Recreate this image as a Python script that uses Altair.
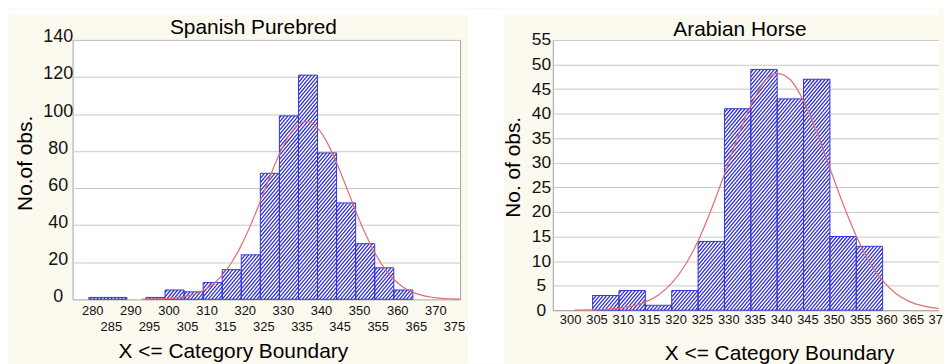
import altair as alt
import pandas as pd

# ---------------- data ----------------
sp_bins = [280, 285, 290, 295, 300, 305, 310, 315, 320, 325, 330, 335, 340, 345, 350, 355, 360]
sp_counts = [1, 1, 0, 1, 5, 4, 9, 16, 24, 68, 99, 121, 79, 52, 30, 17, 5]
sp_curve_x = [294, 295, 297.5, 300, 302.5, 305, 307.5, 310, 312.5, 315, 317.5, 320, 322.5,
              325, 327.5, 330, 332.5, 335, 337.5, 340, 342.5, 345, 347.5, 350, 352.5, 355,
              357.5, 360, 362.5, 365, 367.5, 370, 372.5, 375, 377.4]
sp_curve_y = [0.05, 0.07, 0.15, 0.33, 0.7, 1.4, 2.6, 4.7, 8.0, 13.0, 20.0, 29.1, 40.3,
              53.0, 66.1, 78.4, 88.3, 94.4, 96.0, 92.5, 84.7, 73.7, 60.9, 47.7, 35.6, 25.2,
              16.9, 10.8, 6.5, 3.8, 2.1, 1.1, 0.5, 0.25, 0.1]
sp_ticks_row1 = [280, 290, 300, 310, 320, 330, 340, 350, 360, 370]
sp_ticks_row2 = [285, 295, 305, 315, 325, 335, 345, 355, 365, 375]
sp_y_ticks = [0, 20, 40, 60, 80, 100, 120, 140]

ar_bins = [305, 310, 315, 320, 325, 330, 335, 340, 345, 350, 355]
ar_counts = [3, 4, 1, 4, 14, 41, 49, 43, 47, 15, 13]
ar_curve_x = [301.5, 302.5, 305, 307.5, 310, 312.5, 315, 317.5, 320, 322.5, 325, 327.5,
              330, 332.5, 335, 337.5, 340, 342.5, 345, 347.5, 350, 352.5, 355, 357.5,
              360, 362.5, 365, 367.5, 370, 370.6]
ar_curve_y = [0.02, 0.03, 0.07, 0.16, 0.38, 0.82, 1.65, 3.1, 5.5, 9.1, 14.1, 20.5,
              27.7, 35.2, 41.7, 46.4, 48.2, 46.9, 42.6, 36.3, 28.9, 21.6, 15.1, 9.8,
              6.0, 3.4, 1.8, 0.92, 0.43, 0.38]
ar_ticks = [300, 305, 310, 315, 320, 325, 330, 335, 340, 345, 350, 355, 360, 365, 370]
ar_y_ticks = [0, 5, 10, 15, 20, 25, 30, 35, 40, 45, 50, 55]

BIN_WIDTH = 5
X_TITLE = "X <= Category Boundary"
SP_TITLE = "Spanish Purebred"
AR_TITLE = "Arabian Horse"

# ---------------- layout / style ----------------
FONT = "Liberation Sans"
CREAM = "#fcf9ef"
BAR_BLUE = "#3434d8"
HATCH_BLUE = "#2c2cd2"
CURVE_RED = "#e36d6d"
GRID = "#c9c9c9"
BORDER = "#a3a3a3"
TXT = "#111111"

W1, H1, DOM1, YMAX1 = 390, 261, [275.75, 377.4], 140
W2, H2, DOM2, YMAX2 = 388.2, 272, [297.45, 370.6], 55
SPACING = 93.3
HATCH_PERIOD = 3.5
HATCH_SLOPE = 1.2
HATCH_WIDTH = 1.25


def one_row():
    return pd.DataFrame({"k": [0]})


def value_rect(x, x2, y, y2, color):
    return alt.Chart(one_row()).mark_rect(color=color).encode(
        x=alt.value(x), x2=alt.value(x2), y=alt.value(y), y2=alt.value(y2))


def value_text(text, x, y):
    return alt.Chart(one_row()).mark_text(
        text=text, font=FONT, fontSize=21, color="black", align="center",
        baseline="alphabetic").encode(x=alt.value(x), y=alt.value(y))


def panel(bins, counts, cx, cy, W, H, dom, ymax, xaxis, yaxis, back, front_fn):
    df = pd.DataFrame({"start": bins, "count": counts})
    xs = alt.Scale(domain=dom, nice=False, zero=False)
    ys = alt.Scale(domain=[0, ymax], nice=False, zero=True)
    sx = W / (dom[1] - dom[0])
    sy = H / ymax
    p, m = HATCH_PERIOD, HATCH_SLOPE

    base = alt.Chart(df).transform_filter("datum.count > 0").transform_calculate(
        end=f"datum.start + {BIN_WIDTH}").transform_calculate(zero="0")

    fill = base.mark_rect(color="white").encode(
        x=alt.X("start:Q", scale=xs, axis=xaxis),
        x2="end:Q",
        y=alt.Y("count:Q", scale=ys, axis=yaxis),
        y2="zero:Q",
    )

    hatch = alt.Chart(df).transform_filter("datum.count > 0").transform_calculate(
        px0=f"(datum.start - {dom[0]}) * {sx}"
    ).transform_calculate(
        px1=f"(datum.start + {BIN_WIDTH} - {dom[0]}) * {sx}"
    ).transform_calculate(
        hp=f"datum.count * {sy}"
    ).transform_calculate(
        ks=f"sequence(ceil((datum.px0 - datum.hp / {m}) / {p}), ceil(datum.px1 / {p}))"
    ).transform_flatten(["ks"]).transform_calculate(
        c=f"datum.ks * {p}"
    ).transform_calculate(
        a="max(datum.px0, datum.c)"
    ).transform_calculate(
        b=f"min(datum.px1, datum.c + datum.hp / {m})"
    ).transform_filter("datum.b > datum.a").transform_calculate(
        hx=f"{dom[0]} + datum.a / {sx}"
    ).transform_calculate(
        hx2=f"{dom[0]} + datum.b / {sx}"
    ).transform_calculate(
        hy=f"{m} * (datum.a - datum.c) / {sy}"
    ).transform_calculate(
        hy2=f"{m} * (datum.b - datum.c) / {sy}"
    ).mark_rule(color=HATCH_BLUE, strokeWidth=HATCH_WIDTH).encode(
        x=alt.X("hx:Q", scale=xs, axis=xaxis),
        x2="hx2:Q",
        y=alt.Y("hy:Q", scale=ys, axis=yaxis),
        y2="hy2:Q",
    )

    outline = base.mark_rect(fill="transparent", stroke=BAR_BLUE, strokeWidth=1).encode(
        x=alt.X("start:Q", scale=xs, axis=xaxis),
        x2="end:Q",
        y=alt.Y("count:Q", scale=ys, axis=yaxis),
        y2="zero:Q",
    )

    curve = alt.Chart(pd.DataFrame({"x": cx, "y": cy})).mark_line(
        color=CURVE_RED, strokeWidth=1.2, interpolate="monotone").encode(
        x=alt.X("x:Q", scale=xs, axis=xaxis),
        y=alt.Y("y:Q", scale=ys, axis=yaxis),
    )

    layers = list(back) + [fill, hatch, outline, curve] + list(front_fn(xs, xaxis))
    return alt.layer(*layers).properties(width=W, height=H)


# ---------------- left panel: Spanish Purebred ----------------
left_xaxis = alt.Axis(
    values=sp_ticks_row1, format="d", grid=False, ticks=False, domain=False,
    labelOffset=3.5, labelPadding=11, labelBaseline="middle", labelFontSize=13,
    labelFlush=False, labelOverlap=False, labelColor=TXT,
    title=X_TITLE, titleX=161.3, titleY=59, titleAlign="center", titleBaseline="alphabetic",
    titleFontSize=21, titleFontWeight="normal", titleColor="black",
)
left_yaxis = alt.Axis(
    values=sp_y_ticks, format="d", grid=True, gridColor=GRID, gridWidth=1, ticks=False,
    domain=False, labelAlign="center", labelPadding=15, labelOffset=-3, labelFontSize=18,
    labelColor=TXT,
    title="No.of obs.", titleAngle=270, titleX=-47, titleY=123.7, titleAlign="center",
    titleBaseline="middle", titleFontSize=21, titleFontWeight="normal", titleColor="black",
)


def left_front(xs, xaxis):
    row2 = alt.Chart(pd.DataFrame({"v": sp_ticks_row2})).mark_text(
        dx=3.5, fontSize=13, font=FONT, baseline="middle", align="center", color=TXT).encode(
        x=alt.X("v:Q", scale=xs, axis=xaxis),
        y=alt.value(H1 + 27.7),
        text=alt.Text("v:Q", format="d"),
    )
    return [row2, value_text(SP_TITLE, W1 / 2 - 13, -6)]


left_back = [
    value_rect(-64, W1 + 44, -30.3, -25, "white"),        # white strip above panel
    value_rect(W1 + 8, W1 + 44, -30.3, 325.7, "white"),   # white gap between panels
]
left = panel(sp_bins, sp_counts, sp_curve_x, sp_curve_y, W1, H1, DOM1, YMAX1,
             left_xaxis, left_yaxis, left_back, left_front)

# ---------------- right panel: Arabian Horse ----------------
right_xaxis = alt.Axis(
    values=ar_ticks[:-1], format="d", grid=False, ticks=False, domain=True, domainColor=BORDER,
    labelOffset=3.9, labelPadding=9.7, labelBaseline="middle", labelFontSize=13,
    labelFlush=False, labelOverlap=False, labelColor=TXT,
    title=X_TITLE, titleX=227.7, titleY=50, titleAlign="center", titleBaseline="alphabetic",
    titleFontSize=21, titleFontWeight="normal", titleColor="black",
)
right_yaxis = alt.Axis(
    values=ar_y_ticks, format="d", grid=True, gridColor=GRID, gridWidth=1, ticks=False,
    domain=True, domainColor=BORDER, labelAlign="center", labelPadding=12, labelFontSize=17.5,
    labelColor=TXT,
    title="No. of obs.", titleAngle=270, titleX=-39.3, titleY=127.7, titleAlign="center",
    titleBaseline="middle", titleFontSize=21, titleFontWeight="normal", titleColor="black",
)


def right_front(xs, xaxis):
    # last tick label sits at the window edge in the reference and is cut there
    edge_label = alt.Chart(pd.DataFrame({"v": ar_ticks[-1:]})).mark_text(
        dx=3.9 - 10.8, fontSize=13, font=FONT, baseline="middle", align="left", color=TXT,
        limit=15, ellipsis="\u200b").encode(
        x=alt.X("v:Q", scale=xs, axis=xaxis),
        y=alt.value(H2 + 9.7),
        text=alt.Text("v:Q", format="d"),
    )
    return [edge_label, value_text(AR_TITLE, 193.35 - 5, -4)]


right_back = [value_rect(-49.3, W2, -30.3, -25, "white")]
right = panel(ar_bins, ar_counts, ar_curve_x, ar_curve_y, W2, H2, DOM2, YMAX2,
              right_xaxis, right_yaxis, right_back, right_front
              ).properties(view=alt.ViewBackground(fill="white", stroke="transparent"))

chart = alt.hconcat(left, right, spacing=SPACING, bounds="flush").properties(
    background=CREAM, padding=0
).configure_view(
    fill="white", stroke=BORDER, strokeWidth=1
).configure_axis(
    labelFont=FONT, titleFont=FONT
)

chart.save("out.html", embed_options={"renderer": "svg", "actions": False})
